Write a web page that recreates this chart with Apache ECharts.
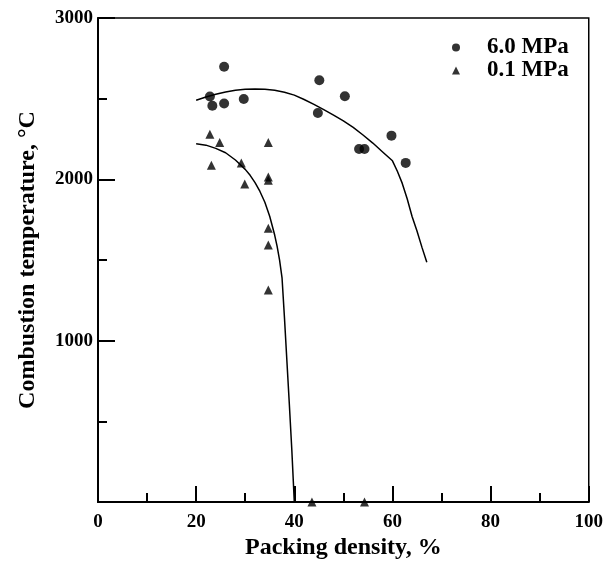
<!DOCTYPE html>
<html>
<head>
<meta charset="utf-8">
<script src="https://cdn.jsdelivr.net/npm/echarts@6/dist/echarts.min.js"></script>
<style>
html,body{margin:0;padding:0;background:#fff;}
#chart{width:606px;height:565px;}
</style>
</head>
<body>
<div id="chart"></div>
<script>
// 6.0 MPa measured points
var hpX = [25.7, 22.8, 23.3, 25.7, 29.7, 45.1, 50.3, 44.8, 59.8, 53.2, 54.3, 62.7];
var hpY = [2698, 2513, 2456, 2470, 2498, 2614, 2515, 2411, 2271, 2188, 2188, 2102];
// 0.1 MPa measured points
var lpX = [22.8, 24.8, 23.1, 29.2, 29.9, 34.7, 34.7, 34.7, 34.7, 34.7, 34.7, 43.6, 54.3];
var lpY = [2279, 2229, 2087, 2101, 1971, 2229, 2015, 1995, 1697, 1593, 1314, 0, 0];
// fitted curves
var fitHpX = [20, 22, 24, 26, 28, 30, 32, 34, 36, 38, 40, 42, 44, 46, 48, 50, 52, 54, 56, 58, 60, 61, 62, 63, 64, 65, 66, 67];
var fitHpY = [2490, 2510, 2527, 2541, 2552, 2558, 2560, 2558, 2552, 2540, 2522, 2495, 2465, 2432, 2398, 2362, 2322, 2275, 2225, 2170, 2115, 2050, 1975, 1880, 1770, 1680, 1580, 1487];
var fitLpX = [20, 22, 24, 26, 28, 30, 31, 32, 33, 34, 35, 36, 36.5, 37, 37.5, 38, 38.5, 39, 39.5, 40];
var fitLpY = [2220, 2212, 2192, 2165, 2120, 2062, 2025, 1980, 1925, 1858, 1770, 1655, 1585, 1500, 1390, 1140, 870, 600, 320, 0];
var xTicks = [0, 20, 40, 60, 80, 100];
var yTicks = [1000, 2000, 3000];
var seriesNames = ['6.0 MPa', '0.1 MPa'];

function zip(a, b) { return a.map(function (v, i) { return [v, b[i]]; }); }

var font = '"Liberation Serif", "DejaVu Serif", serif';
var chart = echarts.init(document.getElementById('chart'), null, {renderer: 'canvas'});
chart.setOption({
  animation: false,
  backgroundColor: '#fff',
  grid: {left: 98, right: 14, top: 18, bottom: 54, show: true, borderColor: '#000', borderWidth: 1.5, backgroundColor: 'transparent'},
  legend: {
    data: [{name: seriesNames[0]}, {name: seriesNames[1]}],
    orient: 'vertical',
    left: 452, top: 36, padding: 0,
    itemWidth: 8, itemHeight: 8, itemGap: 0,
    textStyle: {fontFamily: font, fontWeight: 'bold', fontSize: 23, color: '#000', lineHeight: 17, padding: [0, 0, 0, 22]}
  },
  xAxis: {
    type: 'value', min: 0, max: 100, interval: 20,
    name: 'Packing density, %', nameLocation: 'middle', nameGap: 26,
    nameTextStyle: {fontFamily: font, fontWeight: 'bold', fontSize: 24, color: '#000'},
    axisLine: {lineStyle: {color: '#000', width: 2}},
    axisTick: {inside: true, length: 16, lineStyle: {color: '#000', width: 2}},
    minorTick: {show: true, splitNumber: 2, length: 9, lineStyle: {color: '#000', width: 2}},
    splitLine: {show: false},
    axisLabel: {margin: 10, fontFamily: font, fontWeight: 'bold', fontSize: 19, color: '#000',
      formatter: function (v) { return xTicks.indexOf(v) >= 0 ? String(v) : ''; }}
  },
  yAxis: {
    type: 'value', min: 0, max: 3000, interval: 1000,
    name: 'Combustion temperature, \u00b0C', nameLocation: 'middle', nameGap: 58,
    nameTextStyle: {fontFamily: font, fontWeight: 'bold', fontSize: 24, color: '#000'},
    axisLine: {lineStyle: {color: '#000', width: 2}},
    axisTick: {inside: true, length: 17, lineStyle: {color: '#000', width: 2}},
    minorTick: {show: true, splitNumber: 2, length: 9, lineStyle: {color: '#000', width: 2}},
    splitLine: {show: false},
    axisLabel: {margin: 5, fontFamily: font, fontWeight: 'bold', fontSize: 19, color: '#000',
      formatter: function (v) { return yTicks.indexOf(v) >= 0 ? String(v) : ''; }}
  },
  series: [
    {name: seriesNames[0], type: 'scatter', data: zip(hpX, hpY), symbol: 'circle', symbolSize: 10,
      itemStyle: {color: '#000'}, clip: false, z: 3},
    {name: seriesNames[1], type: 'scatter', data: zip(lpX, lpY), symbol: 'triangle', symbolSize: 9,
      itemStyle: {color: '#000'}, clip: false, z: 3},
    {type: 'line', data: zip(fitHpX, fitHpY), showSymbol: false, smooth: false,
      lineStyle: {color: '#000', width: 1.5}, silent: true, z: 2},
    {type: 'line', data: zip(fitLpX, fitLpY), showSymbol: false, smooth: false,
      lineStyle: {color: '#000', width: 1.5}, silent: true, z: 2}
  ]
});
</script>
</body>
</html>
